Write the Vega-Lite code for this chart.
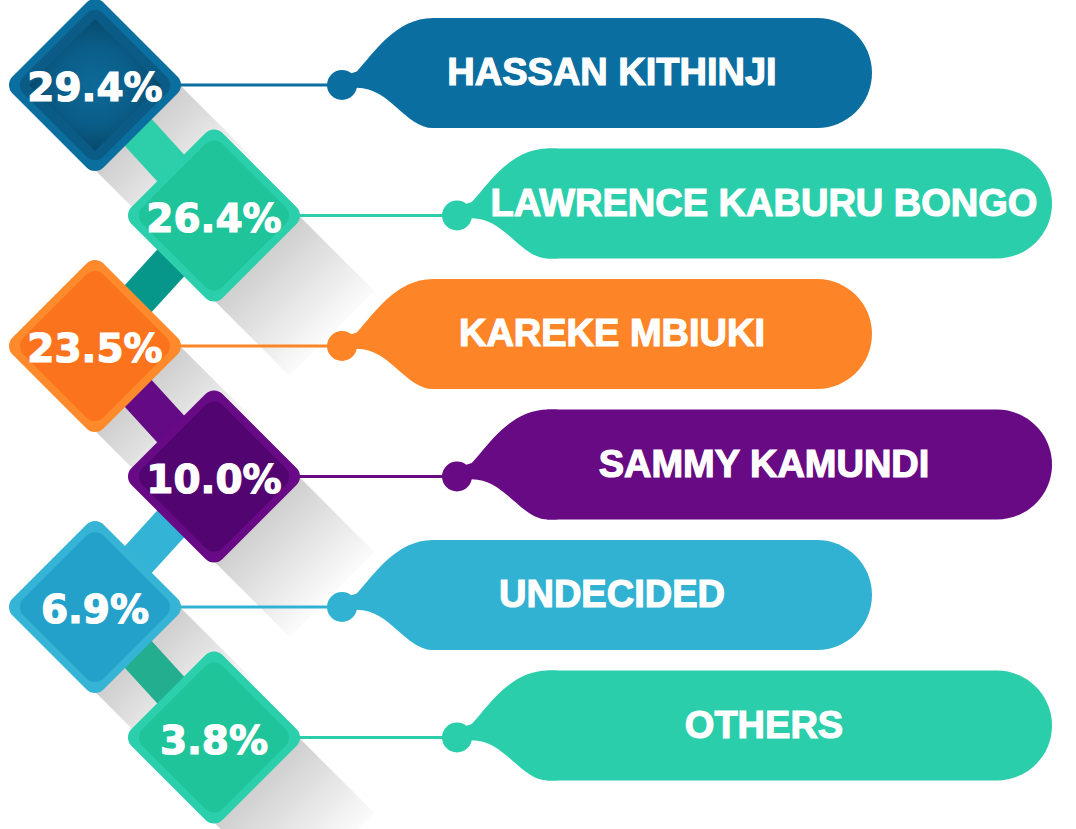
{
  "$schema": "https://vega.github.io/schema/vega-lite/v6.json",
  "width": 1076,
  "height": 829,
  "autosize": {"type": "none"},
  "padding": 0,
  "background": "#ffffff",
  "config": {"view": {"stroke": null}},
  "data": {
    "values": [
      {"order": 1, "name": "HASSAN KITHINJI", "pct": 29.4},
      {"order": 2, "name": "LAWRENCE KABURU BONGO", "pct": 26.4},
      {"order": 3, "name": "KAREKE MBIUKI", "pct": 23.5},
      {"order": 4, "name": "SAMMY KAMUNDI", "pct": 10.0},
      {"order": 5, "name": "UNDECIDED", "pct": 6.9},
      {"order": 6, "name": "OTHERS", "pct": 3.8}
    ]
  },
  "transform": [
    {"calculate": "(datum.order - 1) % 2", "as": "side"},
    {"calculate": "85 + 130.5 * (datum.order - 1)", "as": "cy"},
    {"calculate": "datum.side ? 214 : 95", "as": "dx"},
    {"calculate": "datum.side ? 95 : 214", "as": "px"},
    {"calculate": "datum.cy - 130.5", "as": "pcy"},
    {"calculate": "datum.dx + 118", "as": "sx"},
    {"calculate": "datum.cy + 118", "as": "sy"},
    {"calculate": "datum.side ? 457 : 342", "as": "cx"},
    {"calculate": "datum.cx + 90", "as": "bx"},
    {"calculate": "datum.side ? 1052 : 872", "as": "bend"},
    {"calculate": "datum.cy - 67", "as": "btop"},
    {"calculate": "datum.cy + 43", "as": "bbot"},
    {"calculate": "datum.side ? 764 : 612", "as": "tx"},
    {"calculate": "datum.cy + 16", "as": "pty"},
    {"calculate": "datum.cy", "as": "lty"},
    {"calculate": "format(datum.pct, '.1f') + '%'", "as": "pctLabel"}
  ],
  "resolve": {"scale": {"fill": "independent", "stroke": "independent", "color": "independent"}},
  "layer": [
    {
      "mark": {"type": "rule", "strokeWidth": 120, "strokeCap": "butt",
        "stroke": {"gradient": "linear", "x1": 0, "y1": 0, "x2": 1, "y2": 1,
          "stops": [{"offset": 0, "color": "#bcbcbc"}, {"offset": 0.35, "color": "#cdcdcd"}, {"offset": 1, "color": "#fbfbfb"}]}},
      "encoding": {
        "x": {"field": "dx", "type": "quantitative", "scale": {"domain": [0, 1076], "nice": false, "zero": false}, "axis": null},
        "y": {"field": "cy", "type": "quantitative", "scale": {"domain": [0, 829], "nice": false, "zero": false, "reverse": true}, "axis": null},
        "x2": {"field": "sx"},
        "y2": {"field": "sy"}
      }
    },
    {
      "transform": [{"filter": "datum.order > 1"}],
      "mark": {"type": "rule", "strokeWidth": 38, "strokeCap": "butt"},
      "encoding": {
        "x": {"field": "px", "type": "quantitative", "axis": null},
        "y": {"field": "pcy", "type": "quantitative", "axis": null},
        "x2": {"field": "dx"},
        "y2": {"field": "cy"},
        "stroke": {"field": "name", "type": "nominal", "legend": null,
          "scale": {"domain": ["LAWRENCE KABURU BONGO", "KAREKE MBIUKI", "SAMMY KAMUNDI", "UNDECIDED", "OTHERS"],
            "range": ["#2ccfaa", "#06968a", "#650a85", "#33b3d5", "#22ae8f"]}}
      }
    },
    {
      "mark": {"type": "rule", "strokeWidth": 3},
      "encoding": {
        "x": {"field": "dx", "type": "quantitative", "axis": null},
        "y": {"field": "cy", "type": "quantitative", "axis": null},
        "x2": {"field": "cx"},
        "stroke": {"field": "name", "type": "nominal", "legend": null,
          "scale": {"domain": ["HASSAN KITHINJI", "LAWRENCE KABURU BONGO", "KAREKE MBIUKI", "SAMMY KAMUNDI", "UNDECIDED", "OTHERS"],
            "range": ["#0a6fa0", "#2bceab", "#fe8527", "#670a83", "#32b2d3", "#2bceab"]}}
      }
    },
    {
      "mark": {"type": "point", "shape": "diamond", "filled": true, "opacity": 1, "size": 21904, "strokeWidth": 24, "strokeJoin": "round"},
      "encoding": {
        "x": {"field": "dx", "type": "quantitative", "axis": null},
        "y": {"field": "cy", "type": "quantitative", "axis": null},
        "fill": {"field": "name", "type": "nominal", "legend": null,
          "scale": {"domain": ["HASSAN KITHINJI", "LAWRENCE KABURU BONGO", "KAREKE MBIUKI", "SAMMY KAMUNDI", "UNDECIDED", "OTHERS"],
            "range": ["#0a6e9f", "#2bcfab", "#fe8a2c", "#680a86", "#35b4d6", "#2bcfab"]}},
        "stroke": {"field": "name", "type": "nominal", "legend": null,
          "scale": {"domain": ["HASSAN KITHINJI", "LAWRENCE KABURU BONGO", "KAREKE MBIUKI", "SAMMY KAMUNDI", "UNDECIDED", "OTHERS"],
            "range": ["#0a6e9f", "#2bcfab", "#fe8a2c", "#680a86", "#35b4d6", "#2bcfab"]}}
      }
    },
    {
      "mark": {"type": "point", "shape": "diamond", "filled": true, "opacity": 1, "size": 15876, "strokeWidth": 24, "strokeJoin": "round"},
      "encoding": {
        "x": {"field": "dx", "type": "quantitative", "axis": null},
        "y": {"field": "cy", "type": "quantitative", "axis": null},
        "fill": {"field": "name", "type": "nominal", "legend": null,
          "scale": {"domain": ["HASSAN KITHINJI", "LAWRENCE KABURU BONGO", "KAREKE MBIUKI", "SAMMY KAMUNDI", "UNDECIDED", "OTHERS"],
            "range": ["#0a5b85", "#20c49b", "#fc731d", "#520570", "#23a1ca", "#1fc49a"]}},
        "stroke": {"field": "name", "type": "nominal", "legend": null,
          "scale": {"domain": ["HASSAN KITHINJI", "LAWRENCE KABURU BONGO", "KAREKE MBIUKI", "SAMMY KAMUNDI", "UNDECIDED", "OTHERS"],
            "range": ["#0a5b85", "#20c49b", "#fc731d", "#520570", "#23a1ca", "#1fc49a"]}}
      }
    },
    {
      "transform": [{"filter": "datum.order == 1"}],
      "mark": {"type": "point", "shape": "diamond", "filled": true, "opacity": 1, "size": 17424,
        "fill": {"gradient": "radial", "x1": 0.5, "y1": 0.5, "x2": 0.5, "y2": 0.5, "r1": 0, "r2": 0.5,
          "stops": [{"offset": 0, "color": "#0d6a98"}, {"offset": 0.6, "color": "#0a5d88"}, {"offset": 1, "color": "#074a6c"}]}},
      "encoding": {
        "x": {"field": "dx", "type": "quantitative", "axis": null},
        "y": {"field": "cy", "type": "quantitative", "axis": null}
      }
    },
    {
      "mark": {"type": "text", "font": "DejaVu Sans", "fontWeight": "bold", "fontSize": 39, "fill": "#ffffff", "stroke": "#ffffff", "strokeWidth": 1.2, "align": "center", "baseline": "alphabetic"},
      "encoding": {
        "x": {"field": "dx", "type": "quantitative", "axis": null},
        "y": {"field": "pty", "type": "quantitative", "axis": null},
        "text": {"field": "pctLabel"}
      }
    },
    {
      "mark": {"type": "point", "filled": true, "opacity": 1, "size": 17956, "strokeWidth": 0,
        "shape": "M0,-0.13L0.22,-0.2C0.47,-0.47,0.8,-1,1.36,-1L1.5,-1L1.5,0.642L1.36,0.642C0.95,0.642,0.72,0.04,0.22,0.04L0,0.13Z"},
      "encoding": {
        "x": {"field": "cx", "type": "quantitative", "axis": null},
        "y": {"field": "cy", "type": "quantitative", "axis": null},
        "fill": {"field": "name", "type": "nominal", "legend": null,
          "scale": {"domain": ["HASSAN KITHINJI", "LAWRENCE KABURU BONGO", "KAREKE MBIUKI", "SAMMY KAMUNDI", "UNDECIDED", "OTHERS"],
            "range": ["#0a6fa0", "#2bceab", "#fe8527", "#670a83", "#32b2d3", "#2bceab"]}}
      }
    },
    {
      "mark": {"type": "rect", "cornerRadiusTopRight": 55, "cornerRadiusBottomRight": 55},
      "encoding": {
        "x": {"field": "bx", "type": "quantitative", "axis": null},
        "x2": {"field": "bend"},
        "y": {"field": "btop", "type": "quantitative", "axis": null},
        "y2": {"field": "bbot"},
        "fill": {"field": "name", "type": "nominal", "legend": null,
          "scale": {"domain": ["HASSAN KITHINJI", "LAWRENCE KABURU BONGO", "KAREKE MBIUKI", "SAMMY KAMUNDI", "UNDECIDED", "OTHERS"],
            "range": ["#0a6fa0", "#2bceab", "#fe8527", "#670a83", "#32b2d3", "#2bceab"]}}
      }
    },
    {
      "mark": {"type": "point", "shape": "circle", "filled": true, "opacity": 1, "size": 900},
      "encoding": {
        "x": {"field": "cx", "type": "quantitative", "axis": null},
        "y": {"field": "cy", "type": "quantitative", "axis": null},
        "fill": {"field": "name", "type": "nominal", "legend": null,
          "scale": {"domain": ["HASSAN KITHINJI", "LAWRENCE KABURU BONGO", "KAREKE MBIUKI", "SAMMY KAMUNDI", "UNDECIDED", "OTHERS"],
            "range": ["#0a6fa0", "#2bceab", "#fe8527", "#670a83", "#32b2d3", "#2bceab"]}}
      }
    },
    {
      "mark": {"type": "text", "font": "Liberation Sans", "fontWeight": "bold", "fontSize": 38, "fill": "#ffffff", "stroke": "#ffffff", "strokeWidth": 1.2, "align": "center", "baseline": "alphabetic"},
      "encoding": {
        "x": {"field": "tx", "type": "quantitative", "axis": null},
        "y": {"field": "lty", "type": "quantitative", "axis": null},
        "text": {"field": "name"}
      }
    }
  ]
}
